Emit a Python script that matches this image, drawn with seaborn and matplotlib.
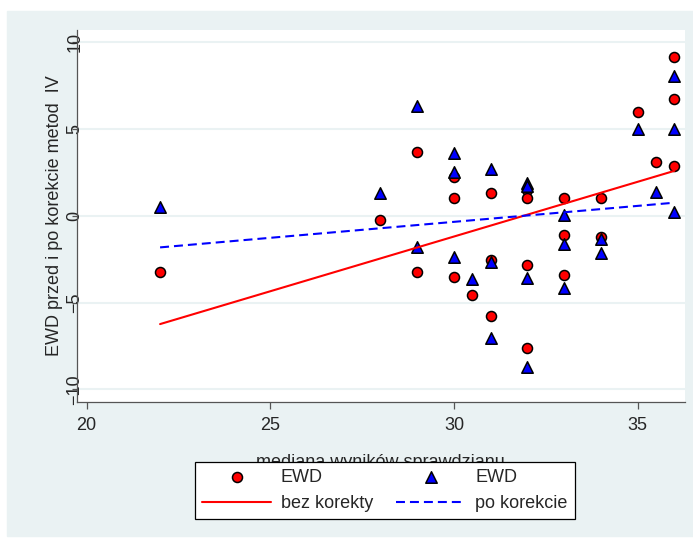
import numpy as np
import pandas as pd
import matplotlib
matplotlib.use("Agg")
import matplotlib.pyplot as plt
from matplotlib.patches import Rectangle
import seaborn as sns

# median test score per school
x_med = [22, 28, 29, 29, 30, 30, 30, 30.5, 31, 31, 31, 32, 32, 32, 32,
         33, 33, 33, 34, 34, 35, 35.5, 36, 36, 36]
# EWD before correction (circles)
ewd_before = [-3.27, -0.26, 3.67, -3.23, 2.23, 0.99, -3.55, -4.59, 1.27, -2.55,
              -5.78, 1.47, 0.99, -2.84, -7.63, 0.99, -1.12, -3.42, 0.99, -1.22,
              5.93, 3.06, 9.13, 6.73, 2.84]
# EWD after correction (triangles)
ewd_after = [0.47, 1.27, 6.29, -1.79, 3.57, 2.52, -2.37, -3.67, 2.65, -2.65,
             -7.06, 1.90, 1.70, -3.61, -8.69, 0.03, -1.66, -4.19, -1.37, -2.14,
             4.97, 1.37, 8.03, 4.97, 0.22]

# fitted lines at their end points
fit_x = [22, 36]
fit_before = [-6.24, 2.57]
fit_after = [-1.83, 0.74]

xticks = [20, 25, 30, 35]
yticks = [-10, -5, 0, 5, 10]

panel = "#EAF2F3"

sns.set_theme(style="white")
plt.rcParams["font.family"] = ["Liberation Sans", "DejaVu Sans"]

W, H = 693, 542
fig = plt.figure(figsize=(W / 100, H / 100), dpi=100, facecolor="white")
fig.patches.append(Rectangle((7 / W, 1 - 536 / H), (W - 7) / W, (536 - 11) / H,
                             transform=fig.transFigure, color=panel, zorder=-5))
ax = fig.add_axes([76.7 / W, 1 - 402 / H, (685 - 76.7) / W, (402 - 30) / H])
ax.set_facecolor("white")

df_b = pd.DataFrame({"x": x_med, "y": ewd_before})
df_a = pd.DataFrame({"x": x_med, "y": ewd_after})
df_fit = pd.DataFrame({"x": fit_x, "before": fit_before, "after": fit_after})

sns.scatterplot(data=df_b, x="x", y="y", ax=ax, marker="o", s=52, color="#FF0000",
                edgecolor="black", linewidth=1.1, zorder=3, label="EWD")
sns.scatterplot(data=df_a, x="x", y="y", ax=ax, marker="^", s=68, color="#0000FF",
                edgecolor="black", linewidth=1.1, zorder=4, label="EWD")
sns.lineplot(data=df_fit, x="x", y="before", ax=ax, color="#FF0000", lw=1.5,
             zorder=5, label="bez korekty")
sns.lineplot(data=df_fit, x="x", y="after", ax=ax, color="#0000FF", lw=1.5,
             linestyle=(0, (4.3, 2.4)), zorder=6, label="po korekcie")

ax.set_xlim(19.73, 36.29)
ax.set_ylim(-10.72, 10.67)
ax.set_xticks(xticks)
ax.set_yticks(yticks)
ax.yaxis.grid(True, color=panel, lw=1.5)
ax.xaxis.grid(False)
ax.set_axisbelow(True)

for s in ["top", "right"]:
    ax.spines[s].set_visible(False)
for s in ["left", "bottom"]:
    ax.spines[s].set_color("#555555")
    ax.spines[s].set_linewidth(0.9)

ax.tick_params(axis="x", direction="out", length=5, width=0.9, color="#555555",
               pad=6, labelsize=13, bottom=True)
ax.tick_params(axis="y", direction="out", length=3.6, width=0.9, color="#555555",
               pad=-8.5, labelsize=13, left=True)
for lab in ax.get_yticklabels():
    lab.set_rotation(90)
    lab.set_va("center")

ax.set_xlabel("mediana wyników sprawdzianu", fontsize=13)
ax.set_ylabel("EWD przed i po korekcie metod  IV", fontsize=13)
ax.xaxis.set_label_coords(0.5, -0.14)
ax.yaxis.set_label_coords(-0.022, 0.5)

# legend: markers on the first row, fitted lines on the second
handles, labels = ax.get_legend_handles_labels()
order = [0, 2, 1, 3]
leg = ax.legend([handles[i] for i in order], [labels[i] for i in order],
                ncol=2, loc="upper left", bbox_to_anchor=(195 / W, 1 - 462 / H),
                bbox_transform=fig.transFigure, borderaxespad=0, fontsize=13,
                frameon=True, fancybox=False, framealpha=1, edgecolor="black",
                handlelength=3.8, handletextpad=0.55, columnspacing=1.3,
                borderpad=0.4, labelspacing=0.5)
leg.get_frame().set_linewidth(0.9)
leg.set_zorder(10)

fig.savefig("out.png", dpi=100, facecolor="white")
